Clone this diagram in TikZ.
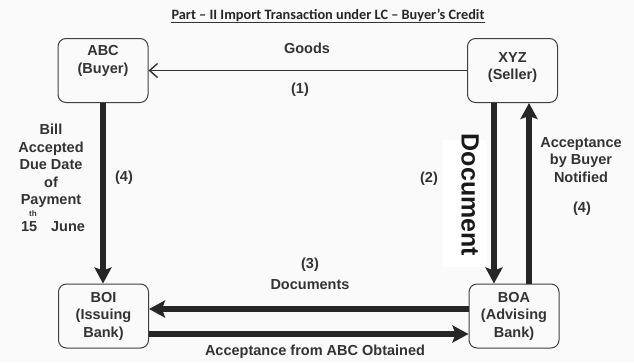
\documentclass[tikz,border=0pt]{standalone}
\usepackage{fontspec}
\setmainfont{Liberation Sans}
\newfontfamily\headfont{Carlito}
\usetikzlibrary{arrows.meta}

\begin{document}
\begin{tikzpicture}[x=1pt,y=-1pt,
  party/.style={draw=black!75, line width=1pt, rounded corners=8pt,
    minimum width=90pt, minimum height=64pt, inner sep=0pt},
  txt/.style={font=\bfseries\fontsize{14.5}{17.5}\selectfont, text=black!80,
    align=center, inner sep=0pt},
  flow/.style={line width=5.5pt, draw=black!85,
    -{Stealth[length=16pt,width=17pt,inset=3pt]}},
  goods/.style={line width=1.4pt, draw=black!80,
    -{Straight Barb[length=8pt,width=14pt,line width=1.4pt]}}]

% canvas
\fill[gray!4] (0,0) rectangle (634,362);
\useasboundingbox (0,0) rectangle (634,362);

% heading
\node[inner sep=0pt, text=black!85, font=\headfont\bfseries\fontsize{14.3}{17}\selectfont]
  (title) at (328,15) {Part – II Import Transaction under LC – Buyer’s Credit};
\draw[line width=1pt, black!80] ([yshift=-3.5pt]title.base west) -- ([yshift=-3.5pt]title.base east);

% parties
\node[party] (abc) at (103,70.5) {};
\node[party] (xyz) at (512.5,70.5) {};
\node[party] (boi) at (103.5,316) {};
\node[party] (boa) at (514,316) {};
\node[txt] (abct) at (103,61) {ABC\\(Buyer)};
\node[txt] (xyzt) at (512.5,67.5) {XYZ\\(Seller)};
\node[txt] (boit) at (103.5,316) {BOI\\(Issuing\\Bank)};
\node[txt] (boat) at (514,316) {BOA\\(Advising\\Bank)};

% white strip behind the vertical caption
\node[fill=white, inner sep=0pt, minimum width=44pt, minimum height=127pt] (docbg) at (465,203.5) {};
\node[rotate=-90, inner sep=0pt, text=black!90, font=\bfseries\fontsize{25}{25}\selectfont]
  (doct) at (470,195) {Document};

% flows
\draw[goods] (xyz.west) -- (abc.east);
\draw[flow] (abc.south) -- (abc.south |- boi.north);
\draw[flow] ([xshift=-18.5pt]xyz.south) -- ([xshift=-18.5pt]xyz.south |- boa.north);
\draw[flow] ([xshift=15pt]boa.north) -- ([xshift=15pt]boa.north |- xyz.south);
\draw[flow] ([yshift=7pt]boa.west) -- ([yshift=7pt]boi.east);
\draw[flow] ([yshift=-18pt]boi.east) -- ([yshift=-18pt]boa.west);

% labels
\node[txt] (goods) at (307,48) {Goods};
\node[txt] (n1) at (300,90) {(1)};
\node[txt] (n4l) at (124,178) {(4)};
\node[txt] (n2) at (429,179) {(2)};
\node[txt] (bill) at (51,166) {Bill\\Accepted\\Due Date\\of\\Payment};
\node[txt] (june) at (53,227) {15\hspace{14pt}June};
\node[inner sep=0pt, text=black!80, font=\bfseries\fontsize{8}{8}\selectfont] (th) at (33,214) {th};
\node[txt] (accb) at (581,160) {Acceptance\\by Buyer\\Notified};
\node[txt] (n4r) at (582,209) {(4)};
\node[txt] (n3) at (310,265) {(3)};
\node[txt] (docs) at (310,285) {Documents};
\node[txt] (accabc) at (315,352) {Acceptance from ABC Obtained};
\end{tikzpicture}
\end{document}
